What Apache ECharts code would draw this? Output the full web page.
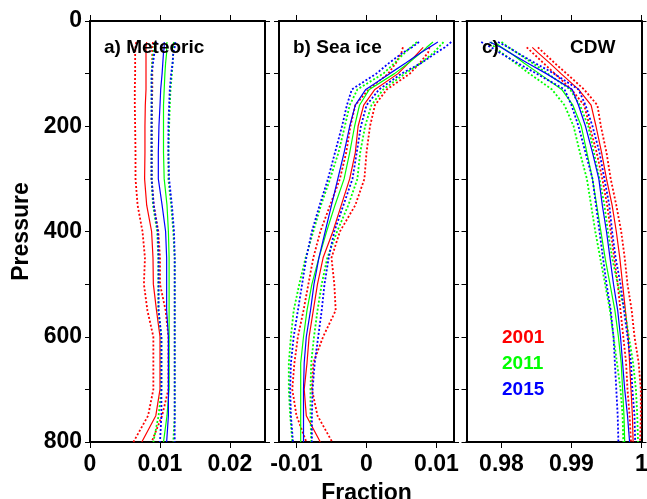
<!DOCTYPE html>
<html>
<head>
<meta charset="utf-8">
<script src="https://cdn.jsdelivr.net/npm/echarts@6/dist/echarts.min.js"></script>
<style>
  html, body { margin: 0; padding: 0; background: #fff; }
  #chart { width: 647px; height: 499px; }
</style>
</head>
<body>
<div id="chart"></div>
<script>
// pressure levels (dbar)
const P = [40, 50, 60, 80, 100, 130, 160, 200, 250, 300, 350, 400, 450, 500, 550, 600, 650, 700, 750, 800];
const yTicks = [0, 200, 400, 600, 800];

// a) meteoric water fraction: mean and +/- std for each year
const metRed     = [0.0081, 0.0080, 0.0080, 0.0080, 0.0080, 0.0080, 0.0079, 0.00785, 0.00785, 0.0078, 0.0081, 0.0088, 0.0090, 0.00905, 0.0095, 0.0100, 0.0100, 0.0100, 0.0094, 0.0074];
const metRedLo   = [0.0066, 0.0065, 0.00645, 0.00645, 0.00645, 0.0064, 0.0064, 0.00645, 0.0065, 0.0065, 0.0068, 0.0075, 0.00785, 0.0077, 0.0082, 0.00905, 0.00905, 0.00905, 0.0083, 0.0062];
const metRedHi   = [0.0090, 0.0089, 0.0089, 0.0089, 0.0089, 0.0089, 0.00885, 0.0088, 0.0088, 0.0088, 0.0091, 0.00976, 0.0100, 0.0100, 0.0108, 0.0112, 0.0112, 0.0112, 0.0103, 0.0088];
const metGreen   = [0.0110, 0.01095, 0.01095, 0.0108, 0.0107, 0.0106, 0.0105, 0.0105, 0.0105, 0.0106, 0.0110, 0.0112, 0.0113, 0.0113, 0.0113, 0.0113, 0.0113, 0.0113, 0.0110, 0.0105];
const metGreenLo = [0.0093, 0.0092, 0.00905, 0.0089, 0.0088, 0.0088, 0.0088, 0.0088, 0.0088, 0.0088, 0.0090, 0.0096, 0.00976, 0.00976, 0.00976, 0.0102, 0.0102, 0.0102, 0.0098, 0.00905];
const metGreenHi = [0.0120, 0.0120, 0.0119, 0.0118, 0.0117, 0.0115, 0.0114, 0.0113, 0.0112, 0.0112, 0.0116, 0.0119, 0.0121, 0.0121, 0.0121, 0.0121, 0.0121, 0.0121, 0.0121, 0.0119];
const metBlue    = [0.0106, 0.0106, 0.0105, 0.0104, 0.0103, 0.0101, 0.0100, 0.00985, 0.00976, 0.00976, 0.0103, 0.0108, 0.01095, 0.01095, 0.01095, 0.0112, 0.0112, 0.0112, 0.0112, 0.01095];
const metBlueLo  = [0.0095, 0.0093, 0.0092, 0.0090, 0.0088, 0.0088, 0.0088, 0.0088, 0.0088, 0.0088, 0.0091, 0.0097, 0.0098, 0.0098, 0.0098, 0.0102, 0.0102, 0.0102, 0.0102, 0.0100];
const metBlueHi  = [0.0122, 0.0121, 0.0119, 0.0118, 0.0116, 0.0114, 0.0113, 0.0112, 0.0112, 0.0113, 0.0117, 0.0120, 0.0121, 0.0121, 0.0121, 0.0121, 0.0121, 0.0121, 0.0121, 0.0121];

// b) sea ice melt fraction
const iceRed     = [null, 0.0081, 0.0074, 0.0060, 0.0045, 0.0012, -0.0004, -0.0012, -0.0016, -0.0024, -0.0036, -0.0048, -0.0062, -0.0070, -0.0076, -0.0082, -0.0085, -0.0089, -0.0086, -0.0066];
const iceRedLo   = [null, 0.0052, 0.0050, 0.0042, 0.0031, 0.0003, -0.0016, -0.0023, -0.0029, -0.0038, -0.0052, -0.0066, -0.0076, -0.0083, -0.0090, -0.0098, -0.0103, -0.0106, -0.0100, -0.0086];
const iceRedHi   = [null, 0.0090, 0.0088, 0.0076, 0.0062, 0.0029, 0.0012, 0.0005, 0.0000, -0.0003, -0.0016, -0.0038, -0.0050, -0.0046, -0.0044, -0.0062, -0.0076, -0.0078, -0.0070, -0.0049];
const iceGreen   = [0.0095, 0.0086, 0.0078, 0.0060, 0.0040, 0.0004, -0.0010, -0.0017, -0.0024, -0.0032, -0.0045, -0.0057, -0.0068, -0.0078, -0.0085, -0.0090, -0.0094, -0.0094, -0.0094, -0.0094];
const iceGreenLo = [0.0072, 0.0063, 0.0055, 0.0040, 0.0024, -0.0013, -0.0024, -0.0031, -0.0040, -0.0052, -0.0065, -0.0076, -0.0087, -0.0096, -0.0104, -0.0108, -0.0111, -0.0111, -0.0109, -0.0106];
const iceGreenHi = [0.0110, 0.0103, 0.0096, 0.0078, 0.0055, 0.0024, 0.0007, -0.0002, -0.0009, -0.0013, -0.0026, -0.0042, -0.0056, -0.0064, -0.0070, -0.0075, -0.0079, -0.0080, -0.0080, -0.0079];
const iceBlue    = [0.0102, 0.0090, 0.0078, 0.0056, 0.0033, -0.0001, -0.0016, -0.0024, -0.0032, -0.0041, -0.0050, -0.0059, -0.0068, -0.0075, -0.0080, -0.0086, -0.0089, -0.0090, -0.0090, -0.0090];
const iceBlueLo  = [0.0075, 0.0065, 0.0052, 0.0032, 0.0014, -0.0021, -0.0028, -0.0035, -0.0045, -0.0055, -0.0067, -0.0078, -0.0086, -0.0092, -0.0098, -0.0104, -0.0108, -0.0109, -0.0108, -0.0105];
const iceBlueHi  = [0.0121, 0.0112, 0.0100, 0.0078, 0.0050, 0.0018, 0.0000, -0.0008, -0.0014, -0.0020, -0.0033, -0.0046, -0.0054, -0.0060, -0.0064, -0.0069, -0.0074, -0.0077, -0.0078, -0.0078];

// c) CDW fraction
const cdwRed     = [null, 0.9844, 0.9852, 0.9869, 0.9885, 0.9910, 0.9928, 0.9935, 0.9943, 0.9950, 0.9958, 0.9964, 0.9969, 0.9973, 0.9977, 0.9981, 0.9983, 0.9985, 0.9987, 0.9988];
const cdwRedLo   = [null, 0.9836, 0.9844, 0.9860, 0.9876, 0.9900, 0.9918, 0.9926, 0.9936, 0.9944, 0.9951, 0.9956, 0.9961, 0.9966, 0.9970, 0.9974, 0.9978, 0.9980, 0.9983, 0.9985];
const cdwRedHi   = [null, 0.9852, 0.9860, 0.9876, 0.9893, 0.9918, 0.9937, 0.9942, 0.9950, 0.9956, 0.9964, 0.9971, 0.9976, 0.9980, 0.9986, 0.9990, 0.9996, 0.9999, 0.9999, 0.9998];
const cdwGreen   = [0.9790, 0.9800, 0.9812, 0.9832, 0.9854, 0.9886, 0.9902, 0.9914, 0.9922, 0.9930, 0.9936, 0.9942, 0.9948, 0.9955, 0.9962, 0.9967, 0.9971, 0.9973, 0.9975, 0.9976];
const cdwGreenLo = [0.9785, 0.9790, 0.9800, 0.9820, 0.9840, 0.9872, 0.9890, 0.9903, 0.9912, 0.9922, 0.9928, 0.9934, 0.9941, 0.9948, 0.9955, 0.9960, 0.9965, 0.9970, 0.9973, 0.9974];
const cdwGreenHi = [0.9800, 0.9810, 0.9822, 0.9844, 0.9866, 0.9898, 0.9912, 0.9924, 0.9932, 0.9940, 0.9947, 0.9952, 0.9958, 0.9966, 0.9976, 0.9982, 0.9988, 0.9992, 0.9994, 0.9995];
const cdwBlue    = [0.9783, 0.9799, 0.9811, 0.9837, 0.9864, 0.9901, 0.9910, 0.9920, 0.9930, 0.9939, 0.9944, 0.9950, 0.9955, 0.9960, 0.9966, 0.9970, 0.9973, 0.9976, 0.9980, 0.9983];
const cdwBlueLo  = [0.9771, 0.9785, 0.9797, 0.9823, 0.9850, 0.9890, 0.9900, 0.9910, 0.9920, 0.9930, 0.9935, 0.9940, 0.9945, 0.9950, 0.9956, 0.9960, 0.9962, 0.9964, 0.9966, 0.9967];
const cdwBlueHi  = [0.9795, 0.9810, 0.9822, 0.9848, 0.9875, 0.9910, 0.9920, 0.9930, 0.9940, 0.9947, 0.9954, 0.9958, 0.9963, 0.9970, 0.9975, 0.9980, 0.9985, 0.9987, 0.9990, 0.9991];

const years = ['2001', '2011', '2015'];
const colors = ['#ff0000', '#00ff00', '#0000ff'];

const panels = [
  { min: 0, max: 0.025, ticks: [0, 0.01, 0.02],
    sets: [[metRedLo, metRed, metRedHi], [metGreenLo, metGreen, metGreenHi], [metBlueLo, metBlue, metBlueHi]] },
  { min: -0.0125, max: 0.0125, ticks: [-0.01, 0, 0.01],
    sets: [[iceRedLo, iceRed, iceRedHi], [iceGreenLo, iceGreen, iceGreenHi], [iceBlueLo, iceBlue, iceBlueHi]] },
  { min: 0.975, max: 1, ticks: [0.98, 0.99, 1],
    sets: [[cdwRedLo, cdwRed, cdwRedHi], [cdwGreenLo, cdwGreen, cdwGreenHi], [cdwBlueLo, cdwBlue, cdwBlueHi]] }
];

const FONT = '"Liberation Sans", Arial, sans-serif';
const lineStyleAxis = { color: '#000', width: 2 };

let grid = [], xAxis = [], yAxis = [], series = [];
const lefts = [90, 279, 466.5];

panels.forEach((pn, i) => {
  grid.push({ left: lefts[i], top: 21, width: 175, height: 421, outerBoundsMode: 'none', containLabel: false });
  // bottom and top x axes
  ['bottom', 'top'].forEach(pos => {
    xAxis.push({
      type: 'value', gridIndex: i, position: pos, min: pn.min, max: pn.max,
      name: (i === 1 && pos === 'bottom') ? 'Fraction' : '',
      nameLocation: 'middle', nameGap: 40,
      nameTextStyle: { fontFamily: FONT, fontWeight: 'bold', fontSize: 23, color: '#000' },
      axisLine: { show: true, onZero: false, lineStyle: lineStyleAxis },
      axisTick: { show: true, inside: false, length: 6, customValues: pn.ticks, lineStyle: { color: '#000', width: 1 } },
      axisLabel: {
        show: pos === 'bottom', customValues: pn.ticks, margin: 11,
        fontFamily: FONT, fontWeight: 'bold', fontSize: 23, color: '#000',
        formatter: v => String(+(+v).toFixed(3))
      },
      splitLine: { show: false }
    });
  });
  ['left', 'right'].forEach(pos => {
    yAxis.push({
      type: 'value', gridIndex: i, position: pos, inverse: true, min: 0, max: 800, interval: 100,
      name: (i === 0 && pos === 'left') ? 'Pressure' : '',
      nameLocation: 'middle', nameGap: 57, nameRotate: 90,
      nameTextStyle: { fontFamily: FONT, fontWeight: 'bold', fontSize: 23, color: '#000' },
      axisLine: { show: true, onZero: false, lineStyle: lineStyleAxis },
      axisTick: { show: true, inside: false, length: 5, lineStyle: { color: '#000', width: 1 } },
      axisLabel: {
        show: i === 0 && pos === 'left', margin: 8,
        fontFamily: FONT, fontWeight: 'bold', fontSize: 23, color: '#000',
        formatter: v => yTicks.indexOf(v) >= 0 ? String(v) : ''
      },
      splitLine: { show: false }
    });
  });
  pn.sets.forEach((set, k) => {
    set.forEach((arr, j) => {
      const data = [];
      P.forEach((p, n) => { if (arr[n] !== null) data.push([arr[n], p]); });
      series.push({
        name: years[k], type: 'line', xAxisIndex: 2 * i, yAxisIndex: 2 * i,
        data: data, showSymbol: false, symbol: 'none', silent: true,
        lineStyle: j === 1
          ? { color: colors[k], width: 1.2, type: 'solid' }
          : { color: colors[k], width: 1.8, type: [2, 2] },
        z: 2 + k
      });
    });
  });
});

const titleStyle = { font: 'bold 19px ' + FONT, fill: '#000' };
const graphic = [
  { type: 'text', left: 104, top: 38, z: 10, style: Object.assign({ text: 'a) Meteoric' }, titleStyle) },
  { type: 'text', left: 293, top: 38, z: 10, style: Object.assign({ text: 'b) Sea ice' }, titleStyle) },
  { type: 'text', left: 482, top: 38, z: 10, style: Object.assign({ text: 'c)' }, titleStyle) },
  { type: 'text', left: 570, top: 38, z: 10, style: Object.assign({ text: 'CDW' }, titleStyle) }
];
years.forEach((y, k) => {
  graphic.push({ type: 'text', left: 502, top: 328 + 26 * k, z: 10,
    style: { text: y, font: 'bold 19px ' + FONT, fill: colors[k] } });
});

const chart = echarts.init(document.getElementById('chart'), null, { renderer: 'canvas' });
chart.setOption({
  animation: false,
  backgroundColor: '#fff',
  grid: grid,
  xAxis: xAxis,
  yAxis: yAxis,
  series: series,
  graphic: graphic
});
</script>
</body>
</html>
